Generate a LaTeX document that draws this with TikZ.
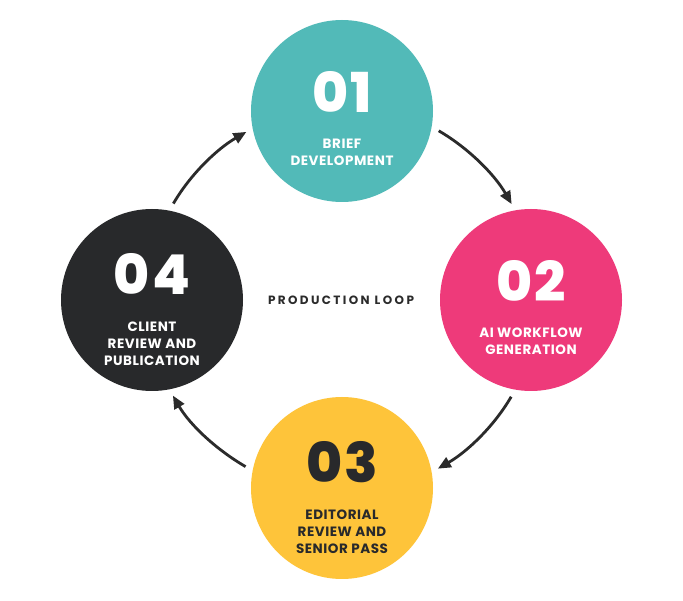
\documentclass[tikz,border=0pt]{standalone}
\usepackage{fontspec}
\setmainfont{Poppins}
\newfontfamily\numfont{Poppins ExtraBold}
\usetikzlibrary{arrows.meta}
\definecolor{cteal}{HTML}{52BAB8}
\definecolor{cpink}{HTML}{EE3A7A}
\definecolor{cdark}{HTML}{28292B}
\definecolor{cyellow}{HTML}{FEC43A}
\definecolor{arrowc}{HTML}{2B2B2B}
\begin{document}
\begin{tikzpicture}[x=1pt,y=1pt,
  stage/.style={circle, minimum size=182pt, inner sep=0pt, draw=none},
  num/.style={font=\numfont\fontsize{55}{55}\selectfont\addfontfeature{LetterSpace=4}, anchor=base, inner sep=0pt},
  lab/.style={font=\fontsize{13.5}{17}\selectfont\bfseries\addfontfeature{LetterSpace=4}, align=center, anchor=base, inner sep=0pt},
  flow/.style={-{Triangle[length=13pt,width=11pt]}, line width=2.8pt, draw=arrowc, shorten <=8pt, shorten >=7pt, looseness=0.9},
  title/.style={font=\fontsize{12}{14}\selectfont\bfseries\addfontfeature{LetterSpace=20}, text=arrowc, inner sep=0pt}]
\useasboundingbox[fill=white] (0,0) rectangle (683,600);
\node[stage, fill=cteal] (n1) at (342,489) {};
\node[stage, fill=cpink] (n2) at (531,300) {};
\node[stage, fill=cyellow] (n3) at (342,112) {};
\node[stage, fill=cdark] (n4) at (152,300) {};
\node[num, text=white] (n1num) at (342,487.5) {01};
\node[lab, text=white] (n1lab) at (342,434) {BRIEF\\DEVELOPMENT};
\node[num, text=white] (n2num) at (531,298.5) {02};
\node[lab, text=white] (n2lab) at (531,245) {AI WORKFLOW\\GENERATION};
\node[num, text=cdark] (n3num) at (342,117.5) {03};
\node[lab, text=cdark] (n3lab) at (342,46.5) {EDITORIAL\\REVIEW AND\\SENIOR PASS};
\node[num, text=white] (n4num) at (152,305.5) {04};
\node[lab, text=white] (n4lab) at (152,234.5) {CLIENT\\REVIEW AND\\PUBLICATION};
\node[title] (loop) at (341,300) {PRODUCTION LOOP};
\draw[flow] (n1.-10.6) to[out=-30, in=120] (n2.100.6);
\draw[flow] (n2.-100.6) to[out=-120, in=30] (n3.10.6);
\draw[flow] (n3.169.4) to[out=150, in=-60] (n4.-79.4);
\draw[flow] (n4.79.4) to[out=60, in=-150] (n1.-169.4);
\end{tikzpicture}
\end{document}
